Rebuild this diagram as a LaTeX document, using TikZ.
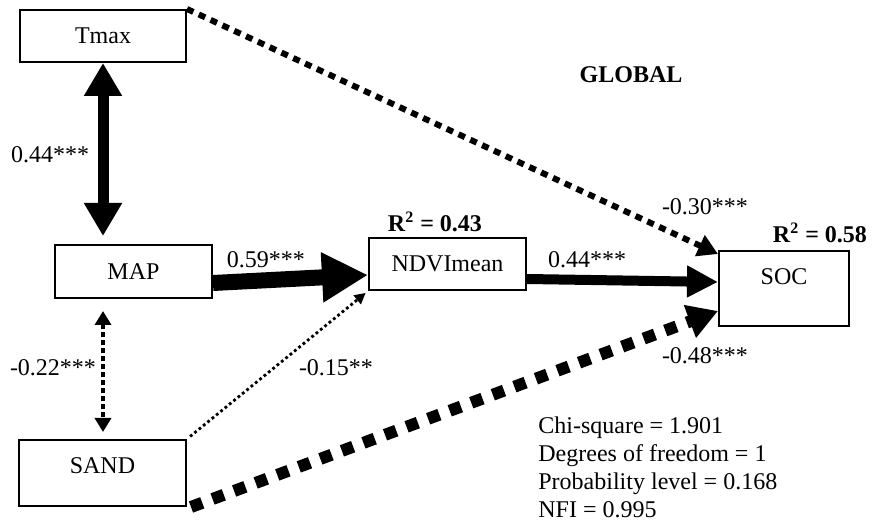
\documentclass[tikz,border=0pt]{standalone}
\usepackage{fontspec}
\setmainfont{Liberation Serif}
\usetikzlibrary{arrows.meta,positioning}

\begin{document}
\begin{tikzpicture}[x=0.5pt,y=-0.5pt,
		every node/.style={font=\fontsize{12}{14}\selectfont},
		var/.style={draw,line width=1pt,inner sep=0pt,minimum width=#1}
	]
		
		\useasboundingbox (0,0) rectangle (875,524);
		
		\node[var=83pt,minimum height=26pt] (tmax) at (103,36) {Tmax};
		\node[var=78.5pt,minimum height=26.5pt] (map) at (133.5,271.5) {MAP};
		\node[var=83.5pt,text height=17pt,text depth=16pt] (sand) at (102.5,473) {SAND};
		\node[var=78.5pt,minimum height=26pt] (ndvi) at (447.5,264) {NDVImean};
		\node[var=65pt,text height=17pt,text depth=20.5pt] (soc) at (784,288.5) {SOC};
		
		\draw[line width=5.5pt,{Triangle[width=18pt,length=16.5pt]}-{Triangle[width=18pt,length=16.5pt]},shorten >=4pt]
		(tmax.south)
		--
		(tmax.south |- map.north);
		
		\draw[line width=2pt,dash pattern=on 2.5pt off 1.5pt,{Triangle[width=8pt,length=7pt]}-{Triangle[width=8pt,length=7pt]},shorten <=6pt,shorten >=3.5pt]
		(map.south -| tmax.south)
		--
		(sand.north -| tmax.south);
		
		\draw[line width=8pt,-{Triangle[width=23.5pt,length=23pt]}]
		([yshift=-5.75pt]map.east)
		--
		([yshift=-5.5pt]ndvi.west);
		
		\draw[line width=1.4pt,dash pattern=on 1.4pt off 1.4pt,-{Triangle[width=5.5pt,length=5.5pt]},shorten <=2pt,shorten >=1.5pt]
		(sand.north east)
		--
		(ndvi.south west);
		
		\draw[line width=6pt,dash pattern=on 6pt off 5.5pt,-{Triangle[width=16.5pt,length=15pt]}]
		([xshift=2pt]sand.south east)
		--
		([yshift=-11.25pt]soc.west);
		
		\draw[line width=3pt,dash pattern=on 3.5pt off 3pt,-{Triangle[width=11pt,length=10pt]}]
		(tmax.north east)
		--
		([yshift=-2pt]soc.north west);
		
		\draw[line width=5pt,-{Triangle[width=15pt,length=15.5pt]}]
		([yshift=-7.5pt]ndvi.east)
		--
		([yshift=3.25pt]soc.west);
		
		\foreach \x/\y/\txt [count=\i] in
		{
			50/155/{0.44***},
			53/368/{-0.22***},
			266/260/{0.59***},
			336/368/{-0.15**},
			587/260/{0.44***},
			705/207/{-0.30***},
			705/356/{-0.48***}
		}
		{
			\node (coef\i) at (\x,\y) {\txt};
		}
		
		\node (r2ndvi) at (435,222) {\textbf{R\textsuperscript{2} = 0.43}};
		\node (r2soc) at (820,233) {\textbf{R\textsuperscript{2} = 0.58}};
		\node (title) at (631,75) {\textbf{GLOBAL}};
		
		\node[anchor=north west,align=left,inner sep=0pt] (fit)
		at (538,416)
		{Chi-square = 1.901\\Degrees of freedom = 1\\Probability level = 0.168\\NFI = 0.995};
		
	\end{tikzpicture}
\end{document}
